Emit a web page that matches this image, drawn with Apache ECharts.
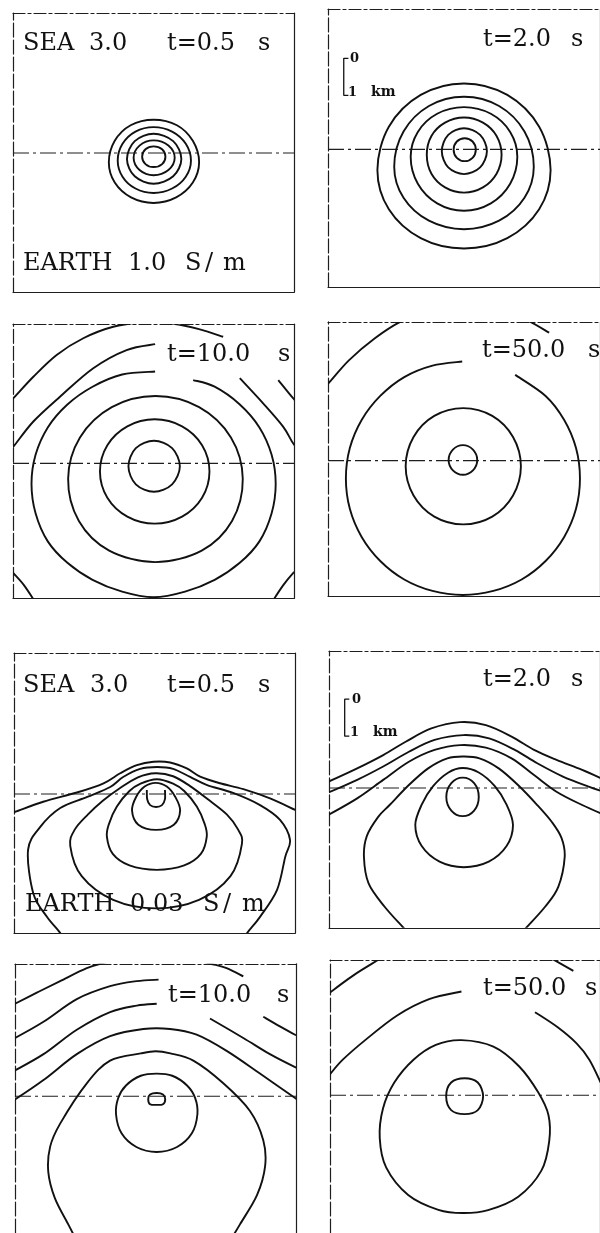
<!DOCTYPE html>
<html>
<head>
<meta charset="utf-8">
<script src="https://cdn.jsdelivr.net/npm/echarts/dist/echarts.min.js"></script>
<style>
  html, body { margin: 0; padding: 0; background: #fff; }
  #chart { width: 600px; height: 1233px; }
</style>
</head>
<body>
<div id="chart"></div>
<script>
// Field contours (x, z in km; z = 0 is the sea/earth interface, sea above).
// Each panel holds a list of contour pieces; pieces that stop at a label are left open.

// Earth 1.0 S/m, t = 0.5 s
const p1Contours = [
  [[0,0.90],[0.63,0.75],[1.06,0.33],[1.23,-0.25],[1.06,-0.80],[0.61,-1.20],[0,-1.35],[-0.61,-1.20],[-1.05,-0.80],[-1.21,-0.25],[-1.05,0.33],[-0.62,0.75],[0,0.90]],
  [[0,0.70],[0.50,0.58],[0.87,0.25],[1.01,-0.20],[0.87,-0.64],[0.50,-0.96],[0,-1.08],[-0.49,-0.96],[-0.84,-0.64],[-0.97,-0.20],[-0.84,0.25],[-0.49,0.58],[0,0.70]],
  [[0,0.52],[0.53,0.32],[0.75,-0.16],[0.53,-0.63],[0,-0.83],[-0.51,-0.63],[-0.72,-0.16],[-0.51,0.32],[0,0.52]],
  [[0,0.34],[0.40,0.20],[0.57,-0.13],[0.40,-0.46],[0,-0.60],[-0.38,-0.46],[-0.54,-0.13],[-0.38,0.20],[0,0.34]],
  [[0,0.18],[0.23,0.10],[0.32,-0.10],[0.23,-0.30],[0,-0.38],[-0.22,-0.30],[-0.31,-0.10],[-0.22,0.10],[0,0.18]]
];

// Earth 1.0 S/m, t = 2.0 s
const p2Contours = [
  [[0,1.78],[1.21,1.47],[2.10,0.61],[2.42,-0.56],[2.10,-1.62],[1.21,-2.40],[0,-2.68],[-1.21,-2.40],[-2.10,-1.62],[-2.42,-0.56],[-2.10,0.61],[-1.21,1.47],[0,1.78]],
  [[0,1.42],[0.98,1.17],[1.69,0.48],[1.95,-0.47],[1.69,-1.31],[0.98,-1.93],[0,-2.16],[-0.98,-1.93],[-1.69,-1.31],[-1.95,-0.47],[-1.69,0.48],[-0.98,1.17],[0,1.42]],
  [[0,1.14],[0.75,0.96],[1.29,0.47],[1.49,-0.20],[1.29,-0.93],[0.75,-1.46],[0,-1.66],[-0.75,-1.46],[-1.29,-0.93],[-1.49,-0.20],[-1.29,0.47],[-0.75,0.96],[0,1.14]],
  [[0,0.86],[0.53,0.72],[0.91,0.36],[1.05,-0.15],[0.91,-0.66],[0.53,-1.03],[0,-1.17],[-0.53,-1.03],[-0.91,-0.66],[-1.04,-0.15],[-0.91,0.36],[-0.53,0.72],[0,0.86]],
  [[0,0.57],[0.45,0.39],[0.64,-0.05],[0.45,-0.49],[0,-0.67],[-0.44,-0.49],[-0.62,-0.05],[-0.44,0.39],[0,0.57]],
  [[0.02,0.30],[0.24,0.21],[0.33,-0.01],[0.24,-0.23],[0.02,-0.32],[-0.20,-0.23],[-0.29,-0.01],[-0.20,0.21],[0.02,0.30]]
];

// Earth 1.0 S/m, t = 10.0 s
const p3Contours = [
  [[0.01,0.61],[0.50,0.41],[0.71,-0.08],[0.50,-0.57],[0.01,-0.77],[-0.48,-0.57],[-0.68,-0.08],[-0.48,0.41],[0.01,0.61]],
  [[0.03,1.19],[0.77,1.00],[1.31,0.49],[1.51,-0.22],[1.31,-0.93],[0.77,-1.44],[0.03,-1.63],[-0.71,-1.44],[-1.25,-0.93],[-1.45,-0.22],[-1.25,0.49],[-0.71,1.00],[0.03,1.19]],
  [[0.05,1.82],[1.23,1.52],[2.09,0.70],[2.41,-0.42],[2.12,-1.56],[1.30,-2.36],[0.05,-2.67],[-1.20,-2.36],[-2.02,-1.56],[-2.31,-0.42],[-1.99,0.70],[-1.13,1.52],[0.05,1.82]],
  [[1.07,2.25],[1.65,2.07],[2.33,1.59],[2.86,0.97],[3.19,0.23],[3.30,-0.55],[3.19,-1.35],[2.86,-2.11],[2.33,-2.69],[1.65,-3.15],[0.85,-3.47],[0,-3.62],[-0.85,-3.47],[-1.65,-3.15],[-2.33,-2.69],[-2.86,-2.11],[-3.19,-1.35],[-3.30,-0.55],[-3.19,0.23],[-2.86,0.97],[-2.33,1.59],[-1.65,2.07],[-0.85,2.40],[0.04,2.48]],
  [[-3.95,1.62],[-3.79,1.76],[-3.25,2.34],[-2.62,2.93],[-1.90,3.38],[-1.09,3.69],[-0.28,3.80],[0.53,3.77],[1.25,3.62],[1.88,3.42]],
  [[3.37,2.25],[3.77,1.76],[3.95,1.58]],
  [[-3.95,0.30],[-3.79,0.45],[-3.25,1.13],[-2.53,1.80],[-1.63,2.57],[-0.73,3.06],[0.04,3.22]],
  [[2.33,2.30],[2.96,1.62],[3.50,0.99],[3.77,0.54],[3.95,0.35]],
  [[-3.95,-2.80],[-3.79,-2.97],[-3.50,-3.30],[-3.20,-3.75]],
  [[3.95,-2.80],[3.77,-2.97],[3.50,-3.30],[3.20,-3.75]]
];

// Earth 1.0 S/m, t = 50.0 s
const p4Contours = [
  [[-0.03,0.42],[0.25,0.30],[0.37,0.02],[0.25,-0.26],[-0.03,-0.38],[-0.31,-0.26],[-0.43,0.02],[-0.31,0.30],[-0.03,0.42]],
  [[-0.02,1.42],[0.79,1.21],[1.37,0.64],[1.59,-0.15],[1.37,-0.94],[0.79,-1.51],[-0.02,-1.72],[-0.83,-1.51],[-1.41,-0.94],[-1.63,-0.15],[-1.41,0.64],[-0.83,1.21],[-0.02,1.42]],
  [[-0.05,2.68],[-0.88,2.57],[-1.67,2.26],[-2.34,1.75],[-2.86,1.10],[-3.19,0.34],[-3.30,-0.48],[-3.19,-1.30],[-2.86,-2.06],[-2.34,-2.71],[-1.67,-3.21],[-0.88,-3.52],[-0.03,-3.63],[0.82,-3.52],[1.61,-3.21],[2.28,-2.71],[2.80,-2.06],[3.13,-1.30],[3.24,-0.48],[3.13,0.34],[2.80,1.10],[2.28,1.75],[1.43,2.32]],
  [[-3.95,1.95],[-3.79,2.09],[-3.21,2.72],[-2.49,3.31],[-1.77,3.76],[-1.14,3.98]],
  [[1.21,3.94],[1.75,3.80],[2.38,3.46]]
];

// Earth 0.03 S/m, t = 0.5 s
const p5Contours = [
  [[-3.95,-0.53],[-3.77,-0.48],[-3.01,-0.21],[-2.10,0.04],[-1.38,0.29],[-0.93,0.56],[-0.48,0.78],[-0.03,0.87],[0.42,0.85],[0.87,0.69],[1.23,0.47],[1.77,0.29],[2.40,0.13],[3.12,-0.12],[3.80,-0.43],[3.95,-0.50]],
  [[-2.39,-4.08],[-2.55,-3.76],[-2.91,-3.32],[-3.28,-2.68],[-3.42,-1.51],[-3.09,-0.89],[-2.55,-0.38],[-1.82,-0.08],[-1.20,0.19],[-0.85,0.46],[-0.39,0.68],[0.07,0.73],[0.50,0.68],[0.96,0.46],[1.42,0.24],[2.12,0.03],[2.85,-0.30],[3.39,-0.70],[3.66,-1.24],[3.53,-1.70],[3.31,-2.59],[2.85,-3.32],[2.50,-3.76],[2.31,-4.08]],
  [[0.02,0.56],[0.50,0.48],[0.95,0.22],[1.45,-0.15],[1.95,-0.55],[2.25,-0.95],[2.36,-1.35],[2.05,-2.22],[1.20,-2.86],[0.04,-3.09],[-1.12,-2.86],[-1.97,-2.22],[-2.28,-1.40],[-2.15,-0.95],[-1.80,-0.55],[-1.40,-0.18],[-0.95,0.15],[-0.45,0.45],[0.02,0.56]],
  [[0.06,0.40],[0.50,0.28],[0.80,0.08],[1.14,-0.34],[1.35,-0.80],[1.41,-1.15],[1.25,-1.62],[0.80,-1.93],[0.06,-2.05],[-0.68,-1.93],[-1.13,-1.62],[-1.29,-1.15],[-1.23,-0.80],[-1.02,-0.34],[-0.68,0.08],[-0.38,0.28],[0.06,0.40]],
  [[0.03,0.30],[0.33,0.20],[0.56,-0.08],[0.69,-0.45],[0.52,-0.83],[0.04,-0.97],[-0.44,-0.83],[-0.61,-0.45],[-0.50,-0.08],[-0.27,0.20],[0.03,0.30]],
  [[-0.21,0.11],[-0.20,-0.14],[-0.12,-0.30],[0.04,-0.35],[0.20,-0.30],[0.28,-0.14],[0.28,0.11]]
];

// Earth 0.03 S/m, t = 2.0 s
const p6Contours = [
  [[-0.05,0.28],[0.27,0.13],[0.40,-0.24],[0.27,-0.61],[-0.05,-0.76],[-0.37,-0.61],[-0.51,-0.24],[-0.37,0.13],[-0.05,0.28]],
  [[-0.05,0.54],[0.40,0.42],[0.85,0.05],[1.18,-0.45],[1.36,-1.00],[1.18,-1.57],[0.68,-1.99],[-0.02,-2.14],[-0.70,-1.99],[-1.20,-1.57],[-1.38,-1.00],[-1.20,-0.45],[-0.88,0.05],[-0.45,0.42],[-0.05,0.54]],
  [[-1.39,-4.11],[-1.70,-3.79],[-2.24,-3.21],[-2.69,-2.58],[-2.82,-1.86],[-2.74,-1.30],[-2.42,-0.78],[-2.10,-0.46],[-1.56,0.08],[-1.02,0.53],[-0.48,0.80],[-0.03,0.85],[0.42,0.80],[0.96,0.53],[1.50,0.08],[2.04,-0.46],[2.45,-0.92],[2.72,-1.35],[2.81,-1.86],[2.63,-2.67],[2.26,-3.21],[1.72,-3.79],[1.42,-4.11]],
  [[-3.99,-0.81],[-3.82,-0.73],[-3.01,-0.28],[-2.28,0.22],[-1.56,0.71],[-0.84,1.03],[-0.12,1.16],[0.60,1.09],[1.32,0.80],[1.95,0.35],[2.58,-0.10],[3.30,-0.46],[3.93,-0.73]],
  [[-3.99,-0.16],[-3.82,-0.12],[-3.01,0.22],[-2.28,0.58],[-1.56,0.98],[-0.84,1.30],[-0.03,1.43],[0.69,1.34],[1.41,1.03],[2.04,0.67],[2.76,0.31],[3.48,0.04],[3.93,-0.11]],
  [[-3.99,0.11],[-3.82,0.17],[-3.01,0.53],[-2.28,0.89],[-1.65,1.25],[-0.93,1.61],[-0.12,1.78],[0.60,1.70],[1.32,1.39],[1.95,1.03],[2.58,0.76],[3.30,0.49],[3.93,0.22]]
];

// Earth 0.03 S/m, t = 10.0 s
const p7Contours = [
  [[0.03,0.09],[0.20,0.05],[0.26,-0.08],[0.20,-0.22],[0.03,-0.24],[-0.15,-0.22],[-0.20,-0.08],[-0.15,0.05],[0.03,0.09]],
  [[0.03,0.63],[0.45,0.57],[0.85,0.30],[1.07,-0.05],[1.13,-0.50],[0.98,-1.03],[0.58,-1.41],[0.03,-1.55],[-0.52,-1.41],[-0.92,-1.03],[-1.07,-0.50],[-1.01,-0.05],[-0.80,0.30],[-0.40,0.57],[0.03,0.63]],
  [[-2.18,-3.92],[-2.36,-3.56],[-2.72,-2.84],[-2.90,-2.11],[-2.85,-1.40],[-2.58,-0.76],[-1.86,0.36],[-1.23,0.99],[-0.40,1.19],[0,1.25],[0.40,1.19],[1.02,0.99],[1.83,0.36],[2.55,-0.41],[2.91,-1.22],[2.96,-1.94],[2.74,-2.75],[2.28,-3.56],[2.07,-3.92]],
  [[-3.94,-0.16],[-3.80,-0.09],[-3.03,0.45],[-2.13,1.17],[-1.23,1.67],[-0.33,1.87],[0.39,1.87],[1.11,1.71],[1.92,1.26],[2.82,0.63],[3.77,-0.05],[3.91,-0.14]],
  [[-3.94,0.65],[-3.80,0.72],[-3.03,1.17],[-2.13,1.85],[-1.23,2.34],[-0.51,2.52],[0.03,2.57]],
  [[1.47,2.16],[2.37,1.62],[3.09,1.17],[3.77,0.81],[3.91,0.76]],
  [[-3.94,1.57],[-3.80,1.62],[-3.03,2.07],[-2.13,2.70],[-1.23,3.06],[-0.51,3.20],[0.08,3.24]],
  [[2.91,2.21],[3.36,1.94],[3.77,1.71],[3.91,1.65]],
  [[-3.94,2.49],[-3.80,2.57],[-3.21,2.88],[-2.58,3.20],[-1.86,3.56],[-1.32,3.73],[-0.69,3.89]],
  [[0.93,3.84],[1.47,3.69],[1.92,3.56],[2.37,3.33]]
];

// Earth 0.03 S/m, t = 50.0 s
const p8Contours = [
  [[-0.01,0.47],[0.36,0.35],[0.51,-0.03],[0.36,-0.41],[-0.01,-0.52],[-0.39,-0.41],[-0.53,-0.03],[-0.39,0.35],[-0.01,0.47]],
  [[-0.10,1.52],[0.80,1.34],[1.52,0.80],[2.06,0.08],[2.35,-0.55],[2.37,-1.27],[2.15,-2.08],[1.50,-2.80],[0.65,-3.17],[-0.06,-3.25],[-0.75,-3.16],[-1.60,-2.75],[-2.22,-1.99],[-2.40,-1.18],[-2.31,-0.37],[-1.99,0.35],[-1.45,0.98],[-0.82,1.39],[-0.10,1.52]],
  [[-0.10,2.86],[-1.01,2.65],[-1.91,2.20],[-2.81,1.52],[-3.44,0.98],[-3.80,0.58],[-3.93,0.43]],
  [[1.97,2.29],[2.60,1.88],[3.14,1.43],[3.50,0.98],[3.82,0.35]],
  [[-3.93,2.70],[-3.80,2.83],[-3.12,3.32],[-2.45,3.73],[-2.18,3.92]],
  [[2.28,3.86],[2.42,3.78],[3.05,3.43]]
];

const panelContours = [p1Contours, p2Contours, p3Contours, p4Contours,
                       p5Contours, p6Contours, p7Contours, p8Contours];

// Depth of the sea/earth interface (km) and length of the depth scale bar (km)
const interfaceZ = 0;
const scaleBarKm = 1;

// ---- layout ----
const KM = 37;                       // pixels per km
const X_MIN = -3.8, X_MAX = 3.8;
const panels = [
  { left: 13,  base: 153,   yMin: -3.76, yMax: 3.78 },
  { left: 328, base: 149.3, yMin: -3.72, yMax: 3.79 },
  { left: 13,  base: 463.3, yMin: -3.65, yMax: 3.76 },
  { left: 328, base: 460.7, yMin: -3.66, yMax: 3.75 },
  { left: 14,  base: 794,   yMin: -3.76, yMax: 3.81 },
  { left: 329, base: 788,   yMin: -3.78, yMax: 3.70 },
  { left: 15,  base: 1100,  yMin: -3.80, yMax: 3.68 },
  { left: 330, base: 1098,  yMin: -3.80, yMax: 3.73 }
];
// scale bar placement (panel index, x of bracket, top of bracket), in km
const scaleBars = [
  { panel: 1, x: -3.36, top: 2.46 },
  { panel: 5, x: -3.36, top: 2.40 }
];

const INK = '#111';
const FRAME = '#1e1e1e';
const FONT = '"DejaVu Serif", "Liberation Serif", serif';

// Smooth curve through the contour points (Catmull-Rom -> cubic Bezier), in pixel space.
function contourRenderer(pieces) {
  return function (params, api) {
    const piece = pieces[api.value(2)];
    const pts = piece.map(p => api.coord(p));
    const n = pts.length;
    const a = piece[0], b = piece[n - 1];
    const closed = n > 3 && a[0] === b[0] && a[1] === b[1];
    const m = n - 1;
    const at = i => closed ? pts[((i % m) + m) % m] : pts[Math.max(0, Math.min(n - 1, i))];
    let d = 'M' + pts[0][0].toFixed(2) + ' ' + pts[0][1].toFixed(2);
    for (let i = 0; i < n - 1; i++) {
      const p0 = at(i - 1), p1 = at(i), p2 = at(i + 1), p3 = at(i + 2);
      const c1x = p1[0] + (p2[0] - p0[0]) / 6, c1y = p1[1] + (p2[1] - p0[1]) / 6;
      const c2x = p2[0] - (p3[0] - p1[0]) / 6, c2y = p2[1] - (p3[1] - p1[1]) / 6;
      d += ' C' + c1x.toFixed(2) + ' ' + c1y.toFixed(2) + ' ' + c2x.toFixed(2) + ' ' +
           c2y.toFixed(2) + ' ' + p2[0].toFixed(2) + ' ' + p2[1].toFixed(2);
    }
    if (closed) d += ' Z';
    const cs = params.coordSys;
    return {
      type: 'path',
      shape: { pathData: d },
      style: { stroke: INK, fill: 'none', lineWidth: 1.9, lineJoin: 'round' },
      clipPath: { type: 'rect', shape: { x: cs.x, y: cs.y, width: cs.width, height: cs.height } },
      silent: true
    };
  };
}

const grid = [], xAxis = [], yAxis = [], series = [];
panels.forEach((p, i) => {
  grid.push({
    left: p.left,
    top: p.base - p.yMax * KM,
    width: (X_MAX - X_MIN) * KM,
    height: (p.yMax - p.yMin) * KM,
    containLabel: false
  });
  const hidden = { axisTick: { show: false }, axisLabel: { show: false }, splitLine: { show: false } };
  xAxis.push(Object.assign({ gridIndex: i, type: 'value', min: X_MIN, max: X_MAX, position: 'bottom',
    axisLine: { show: true, onZero: false, lineStyle: { color: FRAME, width: 1.2 } } }, hidden));
  xAxis.push(Object.assign({ gridIndex: i, type: 'value', min: X_MIN, max: X_MAX, position: 'top',
    axisLine: { show: true, onZero: false, lineStyle: { color: FRAME, width: 1.2, type: [12, 3, 3, 3] } } }, hidden));
  yAxis.push(Object.assign({ gridIndex: i, type: 'value', min: p.yMin, max: p.yMax, position: 'left',
    axisLine: { show: true, onZero: false, lineStyle: { color: FRAME, width: 1.2, type: [14, 3] } } }, hidden));
  yAxis.push(Object.assign({ gridIndex: i, type: 'value', min: p.yMin, max: p.yMax, position: 'right',
    axisLine: { show: true, onZero: false, lineStyle: { color: FRAME, width: 1.2 } } }, hidden));

  // sea / earth interface
  series.push({
    type: 'line',
    xAxisIndex: 2 * i,
    yAxisIndex: 2 * i,
    data: [[X_MIN, interfaceZ], [X_MAX, interfaceZ]],
    symbol: 'none',
    silent: true,
    animation: false,
    z: 1,
    lineStyle: { color: FRAME, width: 1.2, type: [16, 4, 3, 4] }
  });

  const pieces = panelContours[i];
  series.push({
    type: 'custom',
    xAxisIndex: 2 * i,
    yAxisIndex: 2 * i,
    data: pieces.map((pc, k) => [pc[0][0], pc[0][1], k]),
    encode: { x: 0, y: 1 },
    renderItem: contourRenderer(pieces),
    silent: true,
    animation: false,
    z: 2
  });
});

scaleBars.forEach(b => {
  const tick = 0.13;
  series.push({
    type: 'line',
    xAxisIndex: 2 * b.panel,
    yAxisIndex: 2 * b.panel,
    data: [[b.x + tick, b.top], [b.x, b.top], [b.x, b.top - scaleBarKm], [b.x + tick, b.top - scaleBarKm]],
    symbol: 'none',
    silent: true,
    animation: false,
    lineStyle: { color: INK, width: 1.3 }
  });
});

// panel annotations
function txt(text, x, y, size, weight) {
  return {
    type: 'text', left: x, top: y - size * 0.62, silent: true,
    style: { text: text, font: (weight || 'normal') + ' ' + size + 'px ' + FONT, fill: INK }
  };
}
const L = 24;
const graphic = [
  // top rows, 1.0 S/m
  txt('SEA', 23, 47, L), txt('3.0', 89, 47, L), txt('t=0.5', 167, 47, L), txt('s', 258, 47, L),
  txt('EARTH', 23, 267, L), txt('1.0', 128, 267, L), txt('S', 185, 267, L), txt('/', 205, 267, L), txt('m', 223, 267, L),
  txt('t=2.0', 483, 43, L), txt('s', 571, 43, L),
  txt('0', 350, 60, 13, 'bold'), txt('1', 348, 94, 13, 'bold'), txt('km', 371, 94, 14, 'bold'),
  txt('t=10.0', 167, 358, L), txt('s', 278, 358, L),
  txt('t=50.0', 482, 354, L), txt('s', 588, 354, L),
  // bottom rows, 0.03 S/m
  txt('SEA', 23, 689, L), txt('3.0', 90, 689, L), txt('t=0.5', 167, 689, L), txt('s', 258, 689, L),
  txt('EARTH', 25, 908, L), txt('0.03', 130, 908, L), txt('S', 203, 908, L), txt('/', 223, 908, L), txt('m', 242, 908, L),
  txt('t=2.0', 483, 683, L), txt('s', 571, 683, L),
  txt('0', 352, 701, 13, 'bold'), txt('1', 350, 734, 13, 'bold'), txt('km', 373, 734, 14, 'bold'),
  txt('t=10.0', 168, 999, L), txt('s', 277, 999, L),
  txt('t=50.0', 483, 992, L), txt('s', 585, 992, L)
];

const chart = echarts.init(document.getElementById('chart'), null, { renderer: 'canvas' });
chart.setOption({
  backgroundColor: '#ffffff',
  animation: false,
  grid: grid,
  xAxis: xAxis,
  yAxis: yAxis,
  series: series,
  graphic: graphic
});
</script>
</body>
</html>
